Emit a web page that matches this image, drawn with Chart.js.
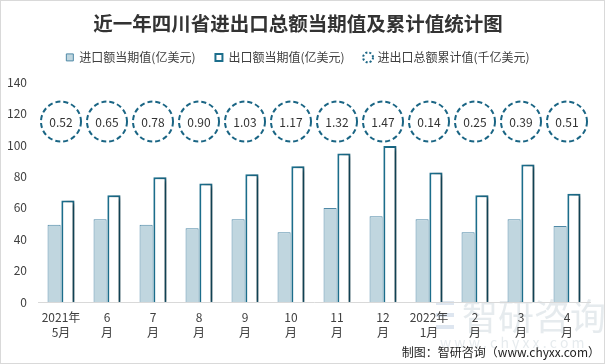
<!DOCTYPE html>
<html>
<head>
<meta charset="utf-8">
<script src="https://cdn.jsdelivr.net/npm/chart.js@4.4.1/dist/chart.umd.min.js"></script>
<style>
  html, body { margin: 0; padding: 0; background: #fff; }
  #wrap { width: 605px; height: 364px; position: relative; }
</style>
</head>
<body>
<div id="wrap"><canvas id="myChart" width="605" height="364"></canvas></div>
<script>
const months = [
  ["2021年", "5月"], ["6", "月"], ["7", "月"], ["8", "月"], ["9", "月"], ["10", "月"],
  ["11", "月"], ["12", "月"], ["2022年", "1月"], ["2", "月"], ["3", "月"], ["4", "月"],
];
// 进口额当期值(亿美元)
const importValues = [49.2, 52.8, 49.2, 47.0, 52.8, 44.5, 59.9, 54.7, 52.8, 44.5, 52.8, 48.5];
// 出口额当期值(亿美元)
const exportValues = [64.7, 68.0, 79.5, 75.6, 81.4, 86.5, 94.7, 99.4, 82.5, 68.0, 87.6, 69.0];
// 进出口总额累计值(千亿美元)
const totalCumValues = [0.52, 0.65, 0.78, 0.90, 1.03, 1.17, 1.32, 1.47, 0.14, 0.25, 0.39, 0.51];
const yTicks = [0, 20, 40, 60, 80, 100, 120, 140];

const seriesNames = ["进口额当期值(亿美元)", "出口额当期值(亿美元)", "进出口总额累计值(千亿美元)"];

// circles sit on a fixed row in the upper part of the plot
const CIRCLE_LEVEL = 115;
const FONT = "'Noto Sans CJK SC', 'Noto Sans', sans-serif";

const shadowPlugin = {
  id: "barShadow",
  beforeDatasetDraw(chart, args) {
    if (args.index !== 1) return;
    const ctx = chart.ctx;
    ctx.save();
    ctx.shadowColor = "rgba(0,0,0,0.45)";
    ctx.shadowOffsetX = 4;
    ctx.shadowOffsetY = 1;
    ctx.shadowBlur = 4;
  },
  afterDatasetDraw(chart, args) {
    if (args.index !== 1) return;
    chart.ctx.restore();
  },
};

// extra room below the legend
const legendGapPlugin = {
  id: "legendGap",
  afterInit(chart) {
    const legend = chart.legend;
    const fit = legend.fit.bind(legend);
    legend.fit = function () {
      fit();
      this.height += 9;
    };
  },
};

const circlesPlugin = {
  id: "cumCircles",
  afterDatasetsDraw(chart) {
    const ctx = chart.ctx;
    const meta = chart.getDatasetMeta(2);
    ctx.save();
    meta.data.forEach((pt, i) => {
      ctx.beginPath();
      ctx.setLineDash([5, 3]);
      ctx.lineWidth = 2;
      ctx.strokeStyle = "#1a6584";
      ctx.fillStyle = "#fff";
      ctx.arc(pt.x, pt.y, 20, 0, Math.PI * 2);
      ctx.fill();
      ctx.stroke();
      ctx.setLineDash([]);
      ctx.fillStyle = "#333";
      ctx.font = "12px " + FONT;
      ctx.textAlign = "center";
      ctx.textBaseline = "middle";
      ctx.fillText(totalCumValues[i].toFixed(2), pt.x, pt.y + 1);
    });
    ctx.restore();
  },
};

const decoPlugin = {
  id: "deco",
  beforeDraw(chart) {
    const ctx = chart.ctx;
    ctx.save();
    ctx.fillStyle = "#fff";
    ctx.fillRect(0, 0, chart.width, chart.height);
    // watermark
    ctx.fillStyle = "rgba(200,210,218,0.45)";
    ctx.font = "36px " + FONT;
    ctx.textAlign = "left";
    ctx.textBaseline = "middle";
    ctx.fillText("智研咨询", 462, 316);
    ctx.font = "14px " + FONT;
    ctx.fillText("w w w . c h y x x . c o m", 440, 343);
    ctx.fillStyle = "rgba(190,205,225,0.5)";
    ctx.fillRect(436, 301, 18, 4);
    ctx.fillRect(436, 313, 18, 4);
    ctx.fillRect(436, 325, 18, 4);
    ctx.restore();
  },
  afterDraw(chart) {
    const ctx = chart.ctx;
    ctx.save();
    ctx.fillStyle = "#222";
    ctx.font = "12px " + FONT;
    ctx.textAlign = "right";
    ctx.textBaseline = "middle";
    ctx.fillText("制图：智研咨询（www.chyxx.com）", 600, 352);
    ctx.strokeStyle = "#d9d9d9";
    ctx.lineWidth = 1;
    ctx.strokeRect(0.5, 0.5, chart.width - 1, chart.height - 1);
    ctx.restore();
  },
};

new Chart(document.getElementById("myChart"), {
  type: "bar",
  data: {
    labels: months,
    datasets: [
      {
        label: seriesNames[0],
        data: importValues,
        backgroundColor: "#c0d6df",
        borderColor: "#4f89a6",
        borderWidth: 1,
        categoryPercentage: 0.6,
        barPercentage: 0.95,
      },
      {
        label: seriesNames[1],
        data: exportValues,
        backgroundColor: "#ffffff",
        borderColor: "#1c6e8c",
        borderWidth: 2,
        categoryPercentage: 0.6,
        barPercentage: 0.95,
      },
      {
        type: "line",
        label: seriesNames[2],
        data: totalCumValues.map(() => CIRCLE_LEVEL),
        showLine: false,
        pointRadius: 0,
        borderColor: "#1a6584",
        backgroundColor: "#fff",
      },
    ],
  },
  options: {
    responsive: false,
    animation: false,
    events: [],
    layout: { padding: { left: 6, right: 15, top: 8, bottom: 16 } },
    plugins: {
      title: {
        display: true,
        text: "近一年四川省进出口总额当期值及累计值统计图",
        color: "#333",
        font: { family: FONT, size: 19.5, weight: "bold" },
        padding: { top: 4, bottom: -4 },
      },
      legend: {
        display: true,
        position: "top",
        labels: {
          color: "#404040",
          font: { family: FONT, size: 12 },
          usePointStyle: true,
          boxWidth: 7,
          boxHeight: 7,
          padding: 20,
          generateLabels(chart) {
            return chart.data.datasets.map((ds, i) => ({
              text: ds.label,
              datasetIndex: i,
              fillStyle: i === 2 ? "#fff" : ds.backgroundColor,
              strokeStyle: ds.borderColor,
              lineWidth: i === 0 ? 1 : 2,
              lineDash: i === 2 ? [2, 2] : [],
              pointStyle: i === 2 ? "circle" : "rect",
              fontColor: "#404040",
              hidden: false,
            }));
          },
        },
      },
      tooltip: { enabled: false },
    },
    scales: {
      x: {
        grid: { display: false, drawTicks: false },
        border: { display: true, color: "#d9d9d9" },
        ticks: {
          color: "#404040",
          font: { family: FONT, size: 12, lineHeight: 1.25 },
          maxRotation: 0,
          autoSkip: false,
          padding: 8,
        },
      },
      y: {
        min: 0,
        max: 140,
        afterBuildTicks(axis) {
          axis.ticks = yTicks.map((v) => ({ value: v }));
        },
        afterFit(axis) {
          axis.width = 32;
        },
        grid: { display: false, drawTicks: false },
        border: { display: false },
        ticks: {
          color: "#404040",
          font: { family: FONT, size: 12 },
          padding: 11,
        },
      },
    },
  },
  plugins: [decoPlugin, legendGapPlugin, shadowPlugin, circlesPlugin],
});
</script>
</body>
</html>
